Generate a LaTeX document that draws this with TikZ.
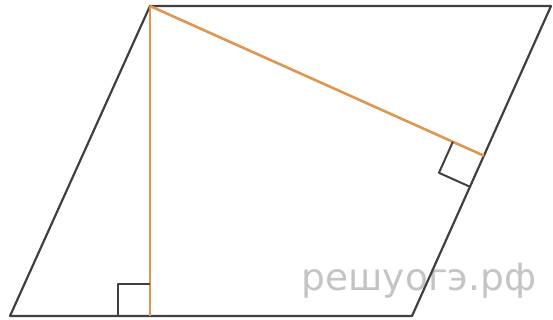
\documentclass[tikz,border=0pt]{standalone}
\usepackage{fontspec}
\newfontfamily\wmfont{DejaVu Sans}
\usetikzlibrary{calc}
\definecolor{figgray}{RGB}{64,64,64}
\definecolor{figorange}{RGB}{222,150,82}
\definecolor{wmgray}{RGB}{196,196,196}
\begin{document}
\begin{tikzpicture}[x=1pt,y=-1pt,line width=2.2pt,line join=round,
    side/.style={draw=figgray},
    height/.style={draw=figorange,line width=2.6pt},
    anglemark/.style={draw=figgray,line width=2pt}]
  \useasboundingbox (0,0) rectangle (553,320);
  \coordinate (A) at (10,316);
  \coordinate (B) at (412,316);
  \coordinate (C) at (551,6);
  \coordinate (D) at (150,6);
  \coordinate (H) at (150,316);
  \coordinate (K) at ($(B)!(D)!(C)$);
  % watermark
  \node[font=\wmfont\fontsize{37.5}{37.5}\selectfont,text=wmgray,anchor=base] (wm) at (419,290) {решуогэ.рф};
  \draw[side] (A) -- (B) -- (C) -- (D) -- cycle;
  \draw[height] (D) -- (H);
  \draw[height] (D) -- (K);
  % right angles
  \draw[anglemark] ($(H)+(-32,0)$) -- ++(0,-32) -- ++(32,0);
  \coordinate (K1) at ($(K)!34pt!(D)$);
  \coordinate (K2) at ($(K)!34pt!(B)$);
  \draw[anglemark] (K1) -- ($(K1)+(K2)-(K)$) -- (K2);
\end{tikzpicture}
\end{document}
